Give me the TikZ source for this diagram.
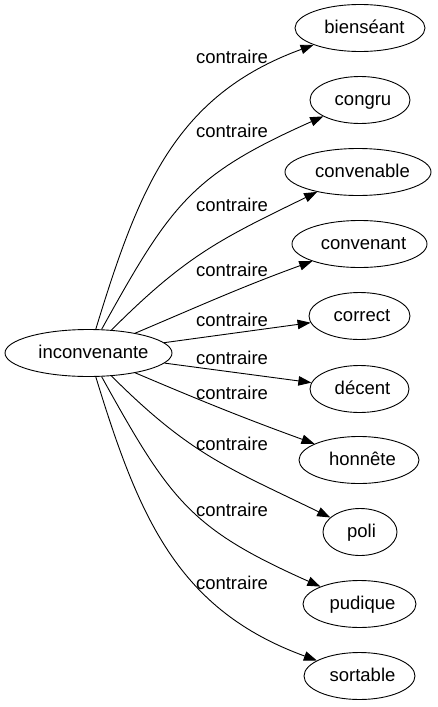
\documentclass[tikz,border=0pt]{standalone}
\usepackage{fontspec}
\setmainfont{Liberation Sans}
\usetikzlibrary{arrows.meta,shapes.geometric}
\begin{document}
\begin{tikzpicture}[x=1pt,y=-1pt,
  word/.style={ellipse,draw,line width=0.9pt,inner sep=0pt,minimum height=47pt},
  wtext/.style={inner sep=0pt,text height=15pt,text depth=4pt,font=\fontsize{18.5}{20}\selectfont},
  lbl/.style={inner sep=0pt,font=\fontsize{18.5}{20}\selectfont},
  link/.style={line width=0.9pt,-{Triangle[length=13pt,width=9.5pt]}}]
\useasboundingbox (0,0) rectangle (438,707);
\node[word,minimum width=167pt,label={[wtext,xshift=5pt]center:inconvenante}] (src) at (88.5,353) {};
\node[word,minimum width=130pt,label={[wtext,xshift=4.5pt]center:bienséant}] (t1) at (360,28) {};
\node[word,minimum width=100pt,label={[wtext,xshift=3pt]center:congru}] (t2) at (360,100) {};
\node[word,minimum width=146pt,label={[wtext,xshift=4.5pt]center:convenable}] (t3) at (358,172) {};
\node[word,minimum width=135pt,label={[wtext,xshift=4pt]center:convenant}] (t4) at (359.5,244) {};
\node[word,minimum width=101pt,label={[wtext,xshift=2.5pt]center:correct}] (t5) at (359.5,316) {};
\node[word,minimum width=99pt,label={[wtext,xshift=3pt]center:décent}] (t6) at (359.5,389) {};
\node[word,minimum width=120pt,label={[wtext,xshift=3.5pt]center:honnête}] (t7) at (359,460) {};
\node[word,minimum width=74pt,label={[wtext,xshift=1.5pt]center:poli}] (t8) at (360,532) {};
\node[word,minimum width=113pt,label={[wtext,xshift=3pt]center:pudique}] (t9) at (359.5,604) {};
\node[word,minimum width=111pt,label={[wtext,xshift=3pt]center:sortable}] (t10) at (359.5,676) {};
\draw[link] (src) to[out=73,in=200,looseness=1.05] (t1);
\draw[link] (src) to[out=61,in=204,looseness=1.2] (t2);
\draw[link] (src) to[out=45,in=206,looseness=1.1] (t3);
\draw[link] (src) to[out=23,in=200] (t4);
\draw[link] (src) -- (t5);
\draw[link] (src) -- (t6);
\draw[link] (src) to[out=-23,in=160] (t7);
\draw[link] (src) to[out=-45,in=154,looseness=1.1] (t8);
\draw[link] (src) to[out=-61,in=156,looseness=1.2] (t9);
\draw[link] (src) to[out=-73,in=160,looseness=1.05] (t10);
\node[lbl] (l1) at (232,57) {contraire};
\node[lbl] (l2) at (232,131) {contraire};
\node[lbl] (l3) at (232,205) {contraire};
\node[lbl] (l4) at (232,270) {contraire};
\node[lbl] (l5) at (232,320) {contraire};
\node[lbl] (l6) at (232,358) {contraire};
\node[lbl] (l7) at (232,393) {contraire};
\node[lbl] (l8) at (232,444) {contraire};
\node[lbl] (l9) at (232,510) {contraire};
\node[lbl] (l10) at (232,583) {contraire};
\end{tikzpicture}
\end{document}
